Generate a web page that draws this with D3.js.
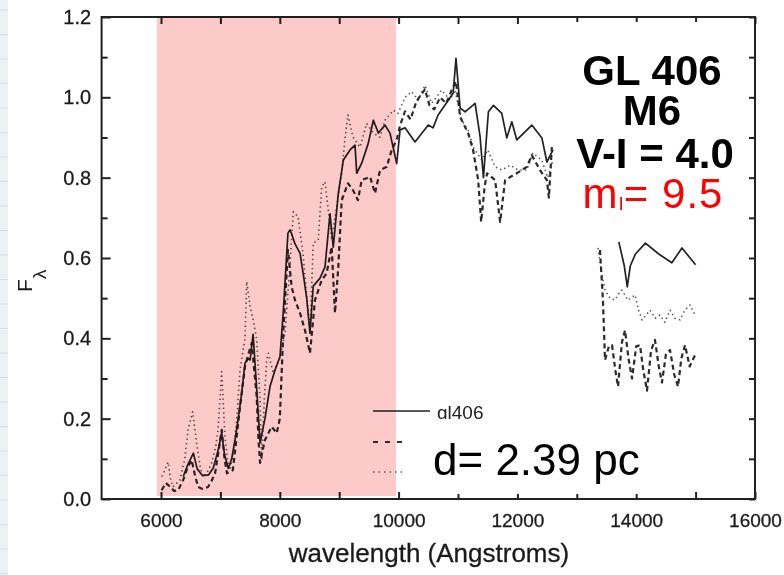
<!DOCTYPE html>
<html>
<head>
<meta charset="utf-8">
<script src="https://cdn.jsdelivr.net/npm/d3@7"></script>
<style>
  body { margin: 0; background: #fff; }
  svg { display: block; }
  text { font-family: "Liberation Sans", Arial, Helvetica, sans-serif; }
</style>
</head>
<body>
<svg id="chart" width="784" height="575"></svg>
<script>
// Spectrum of GL 406 (solid) with two comparison spectra (dashed, dotted).
// Each spectrum has an optical/J segment and an H-band segment.
const gl406Main = [[6375,.056],[6450,.085],[6545,.114],[6610,.075],[6700,.058],[6800,.06],[6880,.077],[6960,.12],[7020,.165],[7070,.11],[7133,.076],[7190,.1],[7246,.147],[7300,.2],[7358,.263],[7414,.338],[7470,.35],[7500,.346],[7550,.41],[7600,.3],[7668,.14],[7750,.2],[7835,.28],[7920,.321],[8003,.354],[8060,.47],[8137,.662],[8171,.67],[8200,.66],[8256,.635],[8340,.612],[8390,.565],[8453,.5],[8508,.413],[8563,.53],[8677,.55],[8761,.578],[8845,.71],[8900,.627],[8985,.761],[9070,.844],[9182,.869],[9266,.881],[9295,.811],[9379,.836],[9490,.886],[9575,.943],[9660,.911],[9770,.931],[9855,.911],[9968,.835],[10024,.919],[10108,.924],[10276,.889],[10500,.931],[10580,.924],[10665,.956],[10918,1.01],[10966,1.097],[11036,.973],[11120,.964],[11288,.985],[11372,.902],[11428,.80],[11512,.964],[11597,.98],[11737,.96],[11821,.899],[11906,.939],[11990,.894],[12243,.931],[12412,.899],[12496,.839],[12600,.869]];
const gl406H = [[13700,.645],[13800,.58],[13850,.528],[13900,.58],[13987,.61],[14155,.637],[14380,.61],[14600,.588],[14770,.625],[15000,.583]];

const dashedMain = [[6012,.022],[6080,.04],[6152,.031],[6220,.02],[6290,.022],[6380,.05],[6450,.08],[6517,.097],[6570,.06],[6625,.03],[6700,.025],[6792,.03],[6850,.045],[6910,.064],[6970,.12],[7022,.172],[7070,.1],[7110,.064],[7210,.072],[7270,.15],[7330,.229],[7414,.33],[7470,.36],[7527,.388],[7570,.32],[7611,.255],[7640,.15],[7668,.09],[7710,.12],[7750,.147],[7864,.18],[7948,.164],[8000,.2],[8060,.42],[8137,.62],[8200,.528],[8256,.495],[8340,.463],[8424,.42],[8508,.363],[8592,.495],[8705,.545],[8789,.562],[8873,.628],[8929,.463],[8985,.578],[9042,.744],[9148,.786],[9232,.769],[9316,.744],[9378,.794],[9520,.802],[9603,.761],[9688,.819],[9800,.827],[9884,.869],[9968,.894],[10024,.93],[10108,.965],[10200,.945],[10300,.99],[10443,1.02],[10520,.98],[10600,.97],[10700,1.0],[10800,.985],[10900,1.02],[10966,1.04],[11036,.951],[11170,.911],[11254,.869],[11340,.794],[11390,.69],[11450,.78],[11490,.811],[11625,.794],[11709,.69],[11793,.794],[11990,.811],[12160,.827],[12243,.856],[12380,.819],[12496,.794],[12530,.75],[12580,.876]];
const dashedH = [[13390,.62],[13440,.495],[13475,.346],[13540,.38],[13593,.383],[13650,.32],[13694,.28],[13760,.39],[13812,.42],[13870,.35],[13930,.3],[14000,.38],[14064,.383],[14120,.32],[14182,.27],[14250,.37],[14316,.396],[14380,.33],[14434,.29],[14500,.36],[14569,.371],[14640,.31],[14704,.28],[14760,.35],[14822,.383],[14900,.33],[14990,.358]];

const dottedMain = [[6012,.056],[6060,.07],[6120,.092],[6160,.05],[6200,.03],[6320,.047],[6400,.1],[6455,.172],[6533,.217],[6600,.139],[6660,.08],[6710,.055],[6790,.07],[6853,.09],[6920,.13],[6960,.172],[7022,.317],[7077,.155],[7120,.1],[7162,.072],[7220,.12],[7275,.197],[7330,.321],[7414,.40],[7443,.541],[7500,.48],[7560,.44],[7611,.396],[7640,.32],[7668,.246],[7695,.097],[7740,.25],[7780,.346],[7807,.363],[7890,.313],[8003,.353],[8087,.413],[8171,.578],[8227,.715],[8307,.703],[8390,.612],[8475,.47],[8508,.413],[8563,.637],[8648,.645],[8705,.777],[8761,.79],[8873,.645],[9042,.811],[9100,.9],[9148,.956],[9232,.901],[9350,.876],[9463,.935],[9575,.911],[9688,.901],[9770,.943],[9912,.968],[9990,.96],[10108,1.0],[10220,1.014],[10330,.993],[10444,1.03],[10556,.985],[10725,1.018],[10865,.993],[10950,1.018],[11062,.943],[11170,.918],[11254,.876],[11400,.844],[11500,.869],[11625,.827],[11740,.819],[11875,.831],[12015,.819],[12160,.819],[12260,.861],[12410,.844],[12510,.80],[12600,.844]];
const dottedH = [[13357,.625],[13420,.56],[13475,.52],[13560,.5],[13640,.495],[13700,.51],[13760,.52],[13860,.495],[13980,.508],[14040,.47],[14100,.446],[14232,.47],[14320,.45],[14400,.458],[14480,.44],[14570,.47],[14650,.45],[14737,.446],[14820,.47],[14906,.483],[14990,.458]];

// Axis ticks and labels
const xLabelTicks = [6000, 8000, 10000, 12000, 14000, 16000];
const xMinorTicks = [6000, 7000, 8000, 9000, 10000, 11000, 12000, 13000, 14000, 15000, 16000];
const yLabelTicks = [0.0, 0.2, 0.4, 0.6, 0.8, 1.0, 1.2];
const yMinorTicks = [0.1, 0.3, 0.5, 0.7, 0.9, 1.1];

// Highlighted wavelength band
const band = [5930, 9955];

// Annotations
const starInfo = ["GL 406", "M6", "V-I = 4.0"];
const distanceText = "d= 2.39 pc";

const svg = d3.select("#chart");
const x = d3.scaleLinear().domain([5000, 16000]).range([101.6, 755]);
const y = d3.scaleLinear().domain([0, 1.2]).range([499, 17]);

// faint ruled strip along the left edge
const strip = svg.append("g");
strip.append("rect").attr("x", 0).attr("y", 0).attr("width", 8).attr("height", 575).attr("fill", "#eef1f3");
d3.range(10, 575, 24.5).forEach(v => {
  strip.append("line").attr("x1", 0).attr("x2", 8).attr("y1", v).attr("y2", v)
    .attr("stroke", "#cfe1ec").attr("stroke-width", 1);
});

const line = d3.line().x(d => x(d[0])).y(d => y(d[1])).curve(d3.curveLinear);
const plot = svg.append("g");

function drawSeries(data, opts) {
  plot.append("path").datum(data).attr("d", line)
    .attr("fill", "none")
    .attr("stroke", opts.color)
    .attr("stroke-width", opts.width)
    .attr("stroke-dasharray", opts.dash || null)
    .attr("stroke-linejoin", "round")
    .attr("stroke-linecap", opts.cap || "butt");
}
const solidStyle = { color: "#222", width: 1.7 };
const dashedStyle = { color: "#2a2a2a", width: 2.2, dash: "5,3.5" };
const dottedStyle = { color: "#555", width: 1.6, dash: "1.4,3.2" };
[dottedMain, dottedH].forEach(s => drawSeries(s, dottedStyle));
[dashedMain, dashedH].forEach(s => drawSeries(s, dashedStyle));
[gl406Main, gl406H].forEach(s => drawSeries(s, solidStyle));

// legend
const legend = svg.append("g");
legend.append("line").attr("x1", 373).attr("x2", 430).attr("y1", 411).attr("y2", 411)
  .attr("stroke", "#222").attr("stroke-width", 1.6);
legend.append("text").attr("x", 437).attr("y", 418.5).attr("font-size", 19).attr("fill", "#222").text("gl406");
legend.append("line").attr("x1", 373).attr("x2", 406).attr("y1", 442).attr("y2", 442)
  .attr("stroke", "#333").attr("stroke-width", 2).attr("stroke-dasharray", "5,7");
legend.append("line").attr("x1", 373).attr("x2", 406).attr("y1", 472).attr("y2", 472)
  .attr("stroke", "#666").attr("stroke-width", 1.5).attr("stroke-dasharray", "1.5,4");

// axes with inward ticks
const axes = svg.append("g").attr("fill", "#222");
const xAxisBottom = axes.append("g").attr("transform", "translate(0,499)")
  .call(d3.axisBottom(x).tickValues(xMinorTicks).tickSize(-7).tickPadding(14.5)
    .tickFormat(d => xLabelTicks.includes(d) ? d : ""));
axes.append("g").attr("transform", "translate(0,17)")
  .call(d3.axisTop(x).tickValues(xMinorTicks).tickSize(-7).tickFormat(""));
const yAxisLeft = axes.append("g").attr("transform", "translate(101.6,0)")
  .call(d3.axisLeft(y).tickValues(yLabelTicks).tickSize(-9).tickPadding(10.5).tickFormat(d3.format(".1f")));
axes.append("g").attr("transform", "translate(101.6,0)")
  .call(d3.axisLeft(y).tickValues(yMinorTicks).tickSize(-6).tickFormat(""));
axes.append("g").attr("transform", "translate(755,0)")
  .call(d3.axisRight(y).tickValues(yLabelTicks.concat(yMinorTicks)).tickSize(-6).tickFormat(""));
axes.selectAll(".domain").remove();
axes.selectAll(".tick line").attr("stroke", "#222").attr("stroke-width", 2);
axes.selectAll(".tick text").attr("fill", "#1a1a1a")
  .attr("stroke", "#1a1a1a").attr("stroke-width", 0.3)
  .attr("font-family", "'Liberation Sans', Arial, sans-serif");
xAxisBottom.selectAll(".tick text").attr("font-size", 19);
yAxisLeft.selectAll(".tick text").attr("font-size", 20);

// plot frame
svg.append("rect").attr("x", x(5000)).attr("y", y(1.2))
  .attr("width", x(16000) - x(5000)).attr("height", y(0) - y(1.2))
  .attr("fill", "none").attr("stroke", "#222").attr("stroke-width", 2);

// shaded band, multiplied over the lines
svg.append("rect").attr("x", x(band[0])).attr("y", y(1.2) - 1)
  .attr("width", x(band[1]) - x(band[0])).attr("height", 496 - y(1.2) + 1)
  .attr("fill", "#fdcaca").style("mix-blend-mode", "multiply");

// axis titles
svg.append("text").attr("x", 429).attr("y", 562).attr("text-anchor", "middle")
  .attr("font-size", 26).attr("fill", "#1a1a1a").attr("stroke", "#1a1a1a").attr("stroke-width", 0.3)
  .text("wavelength (Angstroms)");
svg.append("text").attr("transform", "translate(32,292) rotate(-90)")
  .attr("font-size", 21).attr("fill", "#1a1a1a").text("F");
svg.append("text").attr("transform", "translate(46,279) rotate(-90)")
  .attr("font-size", 19).attr("fill", "#1a1a1a").text("λ");

// star information panel: one text block, one line per tspan
svg.append("rect").attr("x", 556).attr("y", 22).attr("width", 192).attr("height", 220).attr("fill", "#fff");
const info = svg.append("text").attr("text-anchor", "middle").attr("y", 85);
const lineDy = [0, 40, 43];
starInfo.forEach((t, i) => {
  info.append("tspan").attr("x", i === 2 ? 655 : 652).attr("dy", lineDy[i])
    .attr("font-size", 42).attr("font-weight", "bold").attr("fill", "#000").text(t);
});
info.append("tspan").attr("x", 653).attr("dy", 40).attr("font-size", 42)
  .attr("letter-spacing", 1).attr("fill", "#ff0000").text("m");
info.append("tspan").attr("font-size", 19).attr("dy", 2).attr("fill", "#ff0000").text("I");
info.append("tspan").attr("font-size", 42).attr("dy", -2).attr("letter-spacing", 1)
  .attr("fill", "#ff0000").text("= 9.5");

// distance panel
svg.append("rect").attr("x", 405).attr("y", 419).attr("width", 257).attr("height", 75).attr("fill", "#fff");
svg.append("text").attr("x", 433).attr("y", 475).attr("font-size", 44).attr("fill", "#000").text(distanceText);
</script>
</body>
</html>
